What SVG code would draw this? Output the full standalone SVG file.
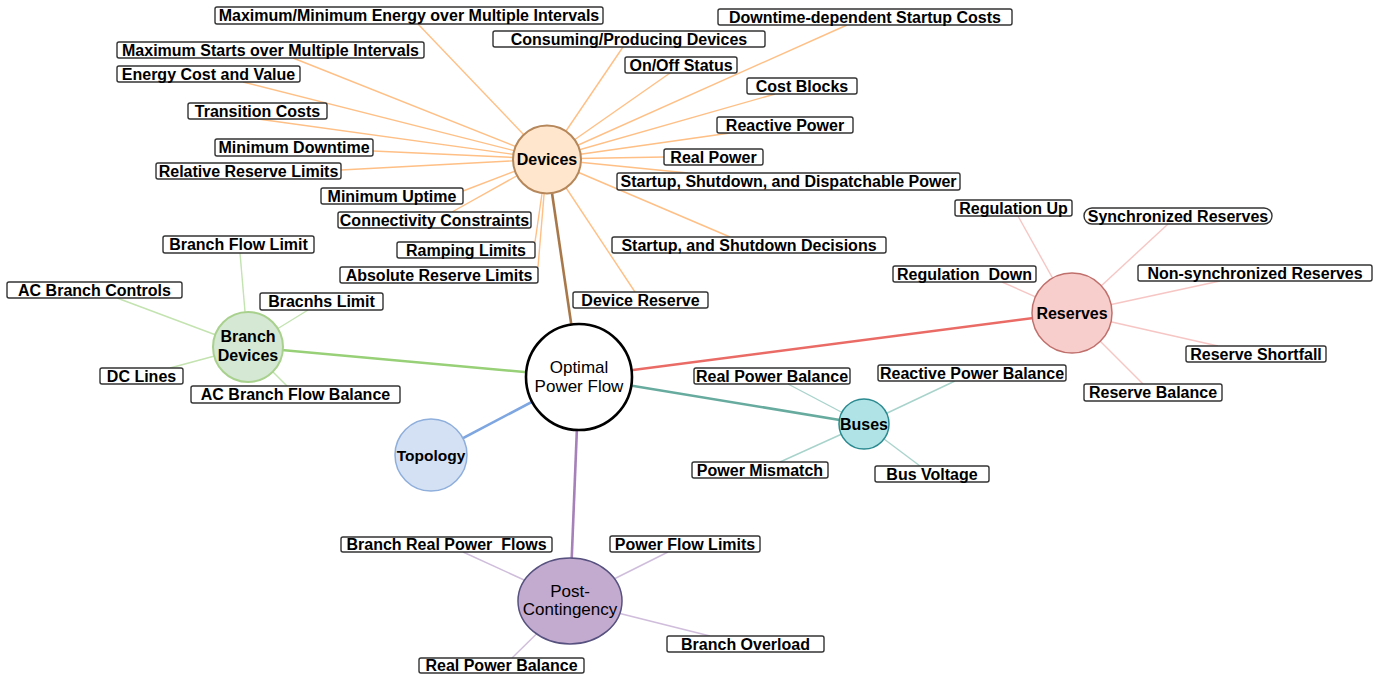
<svg xmlns="http://www.w3.org/2000/svg" width="1390" height="682" viewBox="0 0 1390 682">
<style>
.box{fill:#fff;stroke:#333;stroke-width:1.4}
.t{font-family:"Liberation Sans",Arial,sans-serif;font-weight:bold;font-size:16px;text-anchor:middle;fill:#000;white-space:pre}
.nt{font-family:"Liberation Sans",Arial,sans-serif;font-weight:bold;font-size:16px;text-anchor:middle;fill:#000}
.ntr{font-family:"Liberation Sans",Arial,sans-serif;font-weight:normal;font-size:17px;text-anchor:middle;fill:#000}
.dv line{stroke:#ffbf85;stroke-width:1.4}
.bd line{stroke:#c3e3b0;stroke-width:1.4}
.rs line{stroke:#f6c6c4;stroke-width:1.4}
.bs line{stroke:#a8d3cb;stroke-width:1.4}
.pc line{stroke:#cfbddb;stroke-width:1.4}
.main line{stroke-width:2.6}
</style>
<rect width="1390" height="682" fill="#fff"/>
<g id="connectors">
<g class="dv">
<line x1="418" y1="24" x2="547" y2="159"/>
<line x1="847" y1="25" x2="547" y2="159"/>
<line x1="623" y1="47" x2="547" y2="159"/>
<line x1="293" y1="58" x2="547" y2="159"/>
<line x1="670" y1="73" x2="547" y2="159"/>
<line x1="243" y1="82" x2="547" y2="159"/>
<line x1="775" y1="94" x2="547" y2="159"/>
<line x1="258" y1="119" x2="547" y2="159"/>
<line x1="730" y1="133" x2="547" y2="159"/>
<line x1="373" y1="151" x2="547" y2="159"/>
<line x1="665" y1="157" x2="547" y2="159"/>
<line x1="341" y1="170" x2="547" y2="159"/>
<line x1="688" y1="173" x2="547" y2="159"/>
<line x1="463" y1="191" x2="547" y2="159"/>
<line x1="452" y1="212" x2="547" y2="159"/>
<line x1="730" y1="237" x2="547" y2="159"/>
<line x1="535" y1="242" x2="547" y2="159"/>
<line x1="538" y1="267" x2="547" y2="159"/>
<line x1="635" y1="292" x2="547" y2="159"/>
</g>
<g class="bd">
<line x1="240" y1="253" x2="248" y2="347"/>
<line x1="117" y1="298" x2="248" y2="347"/>
<line x1="308" y1="310" x2="248" y2="347"/>
<line x1="170" y1="368" x2="248" y2="347"/>
<line x1="287" y1="386" x2="248" y2="347"/>
</g>
<g class="rs">
<line x1="1018" y1="216" x2="1072" y2="313"/>
<line x1="1168" y1="224" x2="1072" y2="313"/>
<line x1="1002" y1="282" x2="1072" y2="313"/>
<line x1="1220" y1="281" x2="1072" y2="313"/>
<line x1="1218" y1="346" x2="1072" y2="313"/>
<line x1="1143" y1="384" x2="1072" y2="313"/>
</g>
<g class="bs">
<line x1="788" y1="384" x2="864" y2="424"/>
<line x1="955" y1="381" x2="864" y2="424"/>
<line x1="780" y1="462" x2="864" y2="424"/>
<line x1="920" y1="466" x2="864" y2="424"/>
</g>
<g class="pc">
<line x1="463" y1="552" x2="570" y2="601"/>
<line x1="668" y1="552" x2="570" y2="601"/>
<line x1="710" y1="636" x2="570" y2="601"/>
<line x1="512" y1="658" x2="570" y2="601"/>
</g>
<g class="main">
<line x1="547" y1="159" x2="579" y2="377" stroke="#a8784a"/>
<line x1="248" y1="347" x2="579" y2="377" stroke="#97d077"/>
<line x1="431" y1="455" x2="579" y2="377" stroke="#7ea6e0"/>
<line x1="1072" y1="313" x2="579" y2="377" stroke="#ea6b66"/>
<line x1="864" y1="424" x2="579" y2="377" stroke="#67ab9f"/>
<line x1="570" y1="601" x2="579" y2="377" stroke="#a680b8"/>
</g>
</g>
<g id="node-opf"><circle cx="579" cy="377" r="53" fill="#fff" stroke="#000" stroke-width="2.6"/><text class="ntr" x="579" y="373">Optimal</text><text class="ntr" x="579" y="392">Power Flow</text></g>
<g id="node-devices"><circle cx="547" cy="159.5" r="34" fill="#ffe6cc" stroke="#b5875a" stroke-width="2"/><text class="nt" x="547" y="165">Devices</text></g>
<g id="node-branch"><circle cx="248" cy="347" r="35" fill="#d5e8d4" stroke="#a9d18e" stroke-width="2"/><text class="nt" x="248" y="342">Branch</text><text class="nt" x="248" y="361">Devices</text></g>
<g id="node-topology"><circle cx="431" cy="455" r="36" fill="#d4e1f5" stroke="#8eaedb" stroke-width="1.5"/><text class="nt" x="431" y="461" style="font-size:15.5px">Topology</text></g>
<g id="node-reserves"><circle cx="1072" cy="313" r="40" fill="#f8cecc" stroke="#c0706c" stroke-width="1.5"/><text class="nt" x="1072" y="319">Reserves</text></g>
<g id="node-buses"><circle cx="864" cy="424" r="25" fill="#b0e3e6" stroke="#2a8a90" stroke-width="1.5"/><text class="nt" x="864" y="430">Buses</text></g>
<g id="node-postc"><ellipse cx="570" cy="601" rx="52" ry="43" fill="#c3abd0" stroke="#56517e" stroke-width="1.5"/><text class="ntr" x="570" y="597">Post-</text><text class="ntr" x="570" y="615">Contingency</text></g>
<g id="lbl-maxmin"><rect class="box" x="215" y="7" width="388" height="17" rx="2"/><text class="t" x="409" y="21">Maximum/Minimum Energy over Multiple Intervals</text></g>
<g id="lbl-downtime-startup"><rect class="box" x="718" y="9" width="294" height="16" rx="2"/><text class="t" x="865" y="22.5">Downtime-dependent Startup Costs</text></g>
<g id="lbl-consuming"><rect class="box" x="493" y="31" width="272" height="16" rx="2"/><text class="t" x="629" y="44.5">Consuming/Producing Devices</text></g>
<g id="lbl-maxstarts"><rect class="box" x="117" y="42" width="307" height="16" rx="2"/><text class="t" x="270.5" y="55.5">Maximum Starts over Multiple Intervals</text></g>
<g id="lbl-onoff"><rect class="box" x="625" y="57" width="112" height="16" rx="2"/><text class="t" x="681" y="70.5">On/Off Status</text></g>
<g id="lbl-energycost"><rect class="box" x="117" y="66" width="183" height="16" rx="2"/><text class="t" x="208.5" y="79.5">Energy Cost and Value</text></g>
<g id="lbl-costblocks"><rect class="box" x="747" y="78" width="110" height="16" rx="2"/><text class="t" x="802" y="91.5">Cost Blocks</text></g>
<g id="lbl-transition"><rect class="box" x="188" y="103" width="139" height="16" rx="2"/><text class="t" x="257.5" y="116.5">Transition Costs</text></g>
<g id="lbl-reactive"><rect class="box" x="717" y="117" width="136" height="16" rx="2"/><text class="t" x="785" y="130.5">Reactive Power</text></g>
<g id="lbl-mindown"><rect class="box" x="215" y="139" width="158" height="17" rx="2"/><text class="t" x="294" y="153">Minimum Downtime</text></g>
<g id="lbl-realpower"><rect class="box" x="664" y="149" width="99" height="16" rx="2"/><text class="t" x="713.5" y="162.5">Real Power</text></g>
<g id="lbl-relreserve"><rect class="box" x="156" y="163" width="185" height="16" rx="2"/><text class="t" x="248.5" y="176.5">Relative Reserve Limits</text></g>
<g id="lbl-ssdp"><rect class="box" x="617" y="173" width="343" height="17" rx="2"/><text class="t" x="788.5" y="187">Startup, Shutdown, and Dispatchable Power</text></g>
<g id="lbl-minup"><rect class="box" x="321" y="188" width="142" height="16" rx="2"/><text class="t" x="392" y="201.5">Minimum Uptime</text></g>
<g id="lbl-connectivity"><rect class="box" x="338" y="212" width="193" height="16" rx="2"/><text class="t" x="434.5" y="225.5">Connectivity Constraints</text></g>
<g id="lbl-ssd"><rect class="box" x="612" y="237" width="274" height="16" rx="2"/><text class="t" x="749" y="250.5">Startup, and Shutdown Decisions</text></g>
<g id="lbl-ramping"><rect class="box" x="397" y="242" width="138" height="16" rx="2"/><text class="t" x="466" y="255.5">Ramping Limits</text></g>
<g id="lbl-absreserve"><rect class="box" x="340" y="267" width="198" height="16" rx="2"/><text class="t" x="439" y="280.5">Absolute Reserve Limits</text></g>
<g id="lbl-devreserve"><rect class="box" x="573" y="292" width="135" height="16" rx="2"/><text class="t" x="640.5" y="305.5">Device Reserve</text></g>
<g id="lbl-branchflow"><rect class="box" x="163" y="236" width="151" height="17" rx="2"/><text class="t" x="238.5" y="250">Branch Flow Limit</text></g>
<g id="lbl-acbc"><rect class="box" x="7" y="282" width="175" height="16" rx="2"/><text class="t" x="94.5" y="295.5">AC Branch Controls</text></g>
<g id="lbl-bracnhs"><rect class="box" x="260" y="293" width="123" height="17" rx="2"/><text class="t" x="321.5" y="307">Bracnhs Limit</text></g>
<g id="lbl-dclines"><rect class="box" x="100" y="368" width="83" height="16" rx="2"/><text class="t" x="141.5" y="381.5">DC Lines</text></g>
<g id="lbl-acbfb"><rect class="box" x="191" y="386" width="209" height="17" rx="2"/><text class="t" x="295.5" y="400">AC Branch Flow Balance</text></g>
<g id="lbl-regup"><rect class="box" x="955" y="200" width="117" height="16" rx="2"/><text class="t" x="1013.5" y="213.5">Regulation Up</text></g>
<g id="lbl-sync"><rect class="box" x="1084" y="208" width="188" height="16" rx="8"/><text class="t" x="1178" y="221.5">Synchronized Reserves</text></g>
<g id="lbl-regdown"><rect class="box" x="893" y="266" width="143" height="16" rx="2"/><text class="t" x="964.5" y="279.5">Regulation  Down</text></g>
<g id="lbl-nonsync"><rect class="box" x="1138" y="265" width="234" height="16" rx="2"/><text class="t" x="1255" y="278.5">Non-synchronized Reserves</text></g>
<g id="lbl-shortfall"><rect class="box" x="1186" y="346" width="140" height="16" rx="2"/><text class="t" x="1256" y="359.5">Reserve Shortfall</text></g>
<g id="lbl-resbal"><rect class="box" x="1084" y="384" width="138" height="17" rx="2"/><text class="t" x="1153" y="398">Reserve Balance</text></g>
<g id="lbl-bus-rpb"><rect class="box" x="694" y="368" width="156" height="16" rx="2"/><text class="t" x="772" y="381.5">Real Power Balance</text></g>
<g id="lbl-bus-qpb"><rect class="box" x="878" y="365" width="188" height="16" rx="2"/><text class="t" x="972" y="378.5">Reactive Power Balance</text></g>
<g id="lbl-mismatch"><rect class="box" x="692" y="462" width="136" height="16" rx="2"/><text class="t" x="760" y="475.5">Power Mismatch</text></g>
<g id="lbl-busvolt"><rect class="box" x="875" y="466" width="114" height="16" rx="2"/><text class="t" x="932" y="479.5">Bus Voltage</text></g>
<g id="lbl-brpf"><rect class="box" x="341" y="537" width="211" height="15" rx="2"/><text class="t" x="446.5" y="550">Branch Real Power  Flows</text></g>
<g id="lbl-pfl"><rect class="box" x="610" y="536" width="150" height="16" rx="2"/><text class="t" x="685" y="549.5">Power Flow Limits</text></g>
<g id="lbl-overload"><rect class="box" x="667" y="636" width="157" height="16" rx="2"/><text class="t" x="745.5" y="649.5">Branch Overload</text></g>
<g id="lbl-pc-rpb"><rect class="box" x="419" y="658" width="165" height="15" rx="2"/><text class="t" x="501.5" y="671">Real Power Balance</text></g>
</svg>
